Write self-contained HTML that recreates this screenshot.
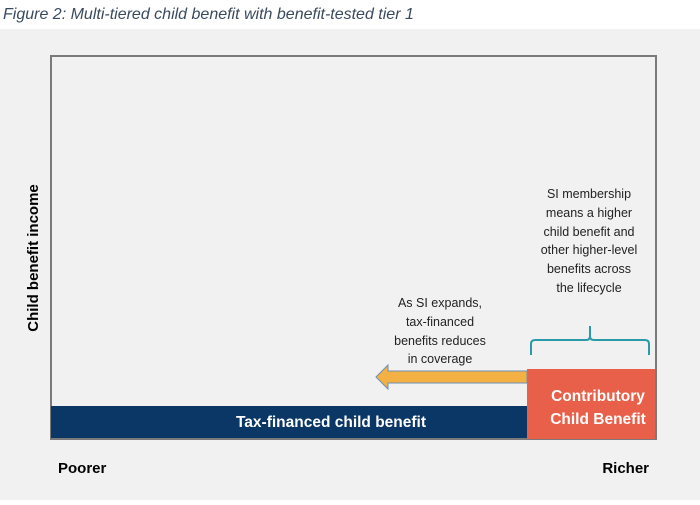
<!DOCTYPE html>
<html><head><meta charset="utf-8"><style>
body{margin:0;width:700px;height:500px;overflow:hidden;background:#fff;font-family:"Liberation Sans",sans-serif}
</style></head><body>
<svg width="700" height="500" xmlns="http://www.w3.org/2000/svg">
<rect x="0" y="0" width="700" height="500" fill="#fff"/>
<rect x="0" y="29" width="700" height="471" fill="#f1f1f1"/>
<text x="3" y="19" font-size="16" font-style="italic" fill="#3a4a5e">Figure 2: Multi-tiered child benefit with benefit-tested tier 1</text>
<rect x="51" y="56" width="605" height="383" fill="#f1f1f1" stroke="#7a7a7a" stroke-width="2"/>
<rect x="51" y="406" width="476" height="32" fill="#0b3766"/>
<text x="331" y="427" font-size="15.5" font-weight="bold" fill="#fff" text-anchor="middle">Tax-financed child benefit</text>
<rect x="527" y="369" width="128" height="70" fill="#e8604a"/>
<text x="598" y="401" font-size="15.5" font-weight="bold" fill="#fff" text-anchor="middle">Contributory</text>
<text x="598" y="424" font-size="15.5" font-weight="bold" fill="#fff" text-anchor="middle">Child Benefit</text>
<polygon points="527,371 388,371 388,365 376,377 388,389 388,383 527,383" fill="#f3b143" stroke="#6d8fb5" stroke-width="1"/>
<path d="M531,355 V344 Q531,340 535,340 H586 Q590,340 590,336 V326 M590,336 Q590,340 594,340 H645 Q649,340 649,344 V355" fill="none" stroke="#2a9aa8" stroke-width="2"/>
<g font-size="12.5" fill="#222" text-anchor="middle">
<text x="589" y="198">SI membership</text>
<text x="589" y="217">means a higher</text>
<text x="589" y="236">child benefit and</text>
<text x="589" y="254">other higher-level</text>
<text x="589" y="273">benefits across</text>
<text x="589" y="292">the lifecycle</text>
</g>
<g font-size="12.5" fill="#222" text-anchor="middle">
<text x="440" y="307">As SI expands,</text>
<text x="440" y="326">tax-financed</text>
<text x="440" y="345">benefits reduces</text>
<text x="440" y="363">in coverage</text>
</g>
<text transform="translate(38,258) rotate(-90)" font-size="15" font-weight="bold" fill="#000" text-anchor="middle">Child benefit income</text>
<text x="58" y="473" font-size="15" font-weight="bold" fill="#000">Poorer</text>
<text x="649" y="473" font-size="15" font-weight="bold" fill="#000" text-anchor="end">Richer</text>
</svg>
</body></html>
